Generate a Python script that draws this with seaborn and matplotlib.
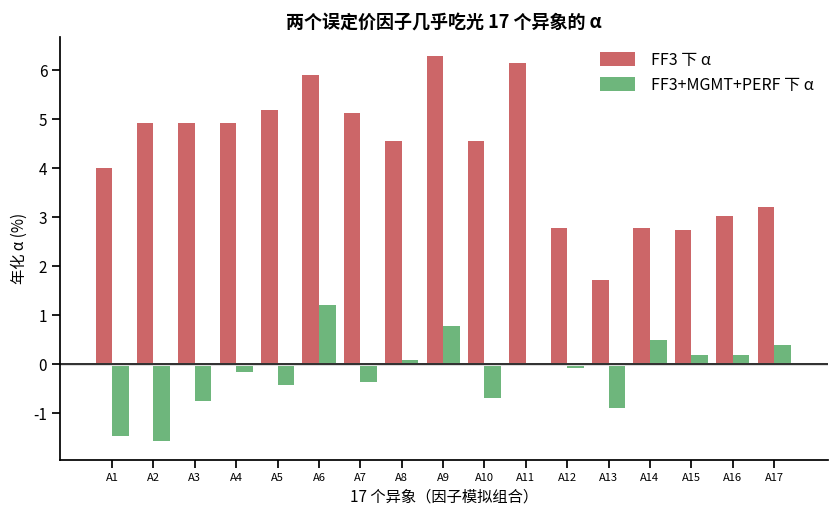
import matplotlib
matplotlib.use("Agg")
import matplotlib.pyplot as plt
import seaborn as sns
import pandas as pd

categories = [f"A{i}" for i in range(1, 18)]
ff3_alpha = [4.00, 4.92, 4.92, 4.92, 5.18, 5.90, 5.12, 4.55, 6.29, 4.55, 6.14,
             2.78, 1.71, 2.78, 2.73, 3.02, 3.20]
full_alpha = [-1.47, -1.57, -0.75, -0.16, -0.43, 1.20, -0.37, 0.08, 0.78, -0.69,
              -0.03, -0.07, -0.90, 0.49, 0.18, 0.18, 0.39]
series_names = ["FF3 下 α", "FF3+MGMT+PERF 下 α"]

df = pd.DataFrame({
    "cat": categories * 2,
    "val": ff3_alpha + full_alpha,
    "model": [series_names[0]] * len(categories) + [series_names[1]] * len(categories),
})

sns.set_theme(style="ticks")
plt.rcParams['font.family'] = ['Noto Sans CJK SC', 'DejaVu Sans']
plt.rcParams['axes.unicode_minus'] = False
for k in ["text.color", "axes.labelcolor", "xtick.color", "ytick.color", "axes.edgecolor"]:
    plt.rcParams[k] = "black"

fig, ax = plt.subplots(figsize=(8.38, 5.17), dpi=100)
sns.barplot(data=df, x="cat", y="val", hue="model", ax=ax,
            palette=["#cc6668", "#6eb67c"], width=0.8, saturation=1,
            linewidth=0, edgecolor="none")

ax.axhline(0, color="#dddddd", lw=2.2, zorder=1)
ax.axhline(0, color="black", lw=1.1, zorder=3)

ax.set_xlim(-1.25, 17.3)
ax.set_ylim(-1.96, 6.67)
ax.set_yticks(range(-1, 7))
ax.tick_params(axis="x", labelsize=8)
ax.tick_params(axis="y", labelsize=11)
ax.set_xlabel("17 个异象（因子模拟组合）", fontsize=11)
ax.set_ylabel("年化 α (%)", fontsize=11)
ax.set_title("两个误定价因子几乎吃光 17 个异象的 α", fontsize=13, fontweight="bold")
sns.despine(ax=ax)
leg = ax.legend(frameon=False, loc="upper right", fontsize=11.5, handlelength=2.2,
                handleheight=0.9, handletextpad=1.0, bbox_to_anchor=(1.0, 1.0))

fig.subplots_adjust(left=0.072, right=0.988, top=0.928, bottom=0.11)
fig.savefig("out.png", dpi=100)
